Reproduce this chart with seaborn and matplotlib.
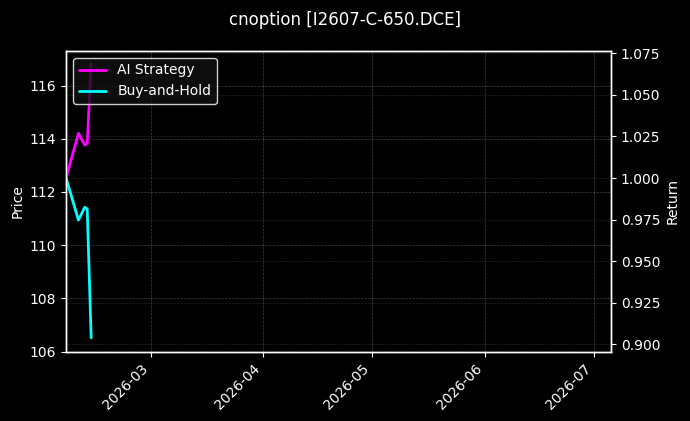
import matplotlib
matplotlib.use("Agg")
import matplotlib.pyplot as plt
import matplotlib.dates as mdates
import seaborn as sns
import pandas as pd

# ---- data ----
dates = ["2026-02-05 18:00", "2026-02-09 04:00", "2026-02-10 22:00",
         "2026-02-11 14:00", "2026-02-12 16:00"]
ai_strategy = [1.000, 1.0269, 1.0198, 1.0209, 1.069]
buy_and_hold = [1.000, 0.9747, 0.9824, 0.9814, 0.9038]
title = "cnoption [I2607-C-650.DCE]"
x_range = ["2026-02-05 18:00", "2026-07-05 18:00"]
price_range = [106.0, 117.3]
return_range = [0.8955, 1.0765]

df = pd.DataFrame({
    "date": pd.to_datetime(dates),
    "AI Strategy": ai_strategy,
    "Buy-and-Hold": buy_and_hold,
})

sns.set_theme(style="dark")
plt.rcParams["font.family"] = ["DejaVu Sans"]
bg = "black"
fig, ax1 = plt.subplots(figsize=(6.9, 4.21), dpi=100)
fig.patch.set_facecolor(bg)
ax1.set_facecolor(bg)
fig.subplots_adjust(left=0.0957, right=0.8855, top=0.8789, bottom=0.165)

ax2 = ax1.twinx()
sns.lineplot(data=df, x="date", y="AI Strategy", ax=ax2, color="#ff00ff",
             linewidth=2, label="AI Strategy")
sns.lineplot(data=df, x="date", y="Buy-and-Hold", ax=ax2, color="#00ffff",
             linewidth=2, label="Buy-and-Hold")

ax1.set_xlim(pd.to_datetime(x_range[0]), pd.to_datetime(x_range[1]))
ax1.set_ylim(*price_range)
ax2.set_ylim(*return_range)
ax1.set_yticks([106, 108, 110, 112, 114, 116])

ax1.xaxis.set_major_locator(mdates.MonthLocator())
ax1.xaxis.set_major_formatter(mdates.DateFormatter("%Y-%m"))
for lbl in ax1.get_xticklabels():
    lbl.set_rotation(45)
    lbl.set_ha("right")

for ax in (ax1, ax2):
    ax.tick_params(colors="white", labelsize=10, length=3.5, width=0.8)
    ax.tick_params(axis="both", which="both", bottom=True, left=(ax is ax1), right=(ax is ax2))
    for s in ax.spines.values():
        s.set_color("white")
        s.set_linewidth(1)
ax1.grid(True, color="gray", linestyle="--", linewidth=0.5, alpha=0.5)
ax2.grid(True, axis="y", color="gray", linestyle=":", linewidth=0.5, alpha=0.5)
ax2.set_xlabel("")
ax1.set_xlabel("")
ax1.set_ylabel("Price", color="white", fontsize=10)
ax2.set_ylabel("Return", color="white", fontsize=10)

leg = ax2.legend(loc="upper left", facecolor="#111111", edgecolor="white",
                 framealpha=0.8, fontsize=10)
for t in leg.get_texts():
    t.set_color("white")

fig.suptitle(title, color="white", fontsize=12, y=0.975)
fig.savefig("out.png", dpi=100, facecolor=bg)
